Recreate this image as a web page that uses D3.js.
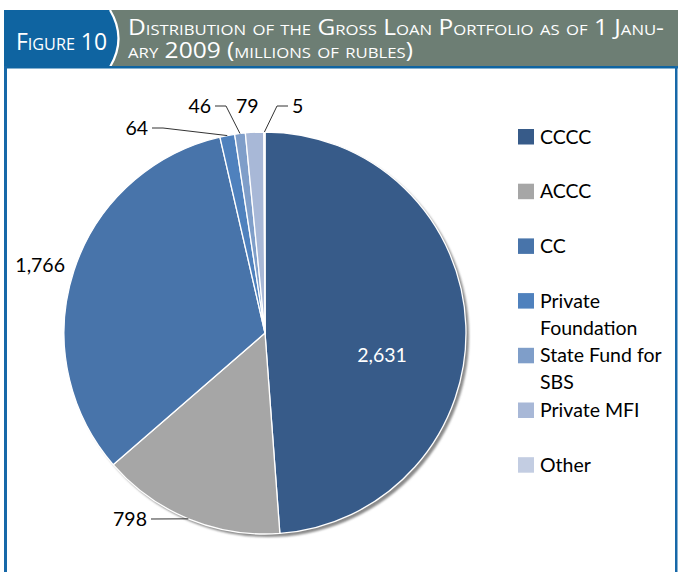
<!DOCTYPE html>
<html>
<head>
<meta charset="utf-8">
<script src="https://cdn.jsdelivr.net/npm/d3@7"></script>
<style>
  body { margin: 0; background: #fff; }
  svg { display: block; }
</style>
</head>
<body>
<script>
'use strict'

const categories = ['CCCC', 'ACCC', 'CC', 'Private Foundation', 'State Fund for SBS', 'Private MFI', 'Other']
const values = [2631, 798, 1766, 64, 46, 79, 5]
const titleLines = ['Distribution of the Gross Loan Portfolio as of 1 Janu-', 'ary 2009 (millions of rubles)']
const figureLabel = 'Figure 10'

const colors = ['#375b89', '#a6a6a6', '#4874aa', '#4f81bd', '#7f9ec9', '#a8b8d7', '#c3cde2']
// where legend entries wrap
const legendWrap = { 'Private Foundation': ['Private', 'Foundation'], 'State Fund for SBS': ['State Fund for', 'SBS'] }

// label placement relative to pie centre: [dx, dy, anchor, leader?]
const labelLayout = [
  [117, 22, 'middle', false],
  [-118, 186, 'end', true],
  [-200, -68, 'end', false],
  [-117, -205, 'end', true],
  [-54, -227, 'end', true],
  [-29, -227, 'start', false],
  [27, -227, 'start', true]
]

const width = 678
const height = 572
const cx = 265
const cy = 333
const radius = 201
const font = 'Lato, "Open Sans", sans-serif'
const fmt = d3.format(',')

const svg = d3.select('body').append('svg')
  .attr('width', width)
  .attr('height', height)

const defs = svg.append('defs')
defs.append('filter').attr('id', 'shadow')
  .attr('x', '-10%').attr('y', '-10%').attr('width', '120%').attr('height', '120%')
  .append('feGaussianBlur').attr('stdDeviation', 1.2)

// ---- frame and header
const frame = svg.append('g')
frame.append('rect').attr('x', 4).attr('y', 10).attr('width', width - 4).attr('height', 57).attr('fill', '#6d7e74')
frame.append('path')
  .attr('d', 'M4,10 L110,10 Q127,38.5 110,67 L4,67 Z')
  .attr('fill', '#0f64a1')
frame.append('path')
  .attr('d', 'M110,10 Q127,38.5 110,67')
  .attr('fill', 'none').attr('stroke', '#fff').attr('stroke-width', 2.2)
frame.append('rect').attr('x', 4).attr('y', 66).attr('width', width - 4).attr('height', 2.5).attr('fill', '#0f64a1')
frame.append('rect').attr('x', 4).attr('y', 66).attr('width', 3).attr('height', height - 66).attr('fill', '#1768a8')
frame.append('rect').attr('x', 675).attr('y', 66).attr('width', 2.5).attr('height', height - 66).attr('fill', '#1768a8')

frame.append('text')
  .attr('x', 16).attr('y', 50)
  .attr('textLength', 91).attr('lengthAdjust', 'spacingAndGlyphs')
  .style('font-family', '"Open Sans", sans-serif')
  .style('font-variant', 'small-caps')
  .style('font-size', '24px')
  .attr('fill', '#fff')
  .text(figureLabel)

frame.selectAll('text.title')
  .data(titleLines)
  .enter()
  .append('text')
  .attr('class', 'title')
  .attr('x', 128)
  .attr('y', function (d, i) { return 35 + i * 23 })
  .attr('textLength', function (d, i) { return i === 0 ? 536 : 285 })
  .attr('lengthAdjust', 'spacingAndGlyphs')
  .style('font-family', '"Open Sans", sans-serif')
  .style('font-variant', 'small-caps')
  .style('font-size', '22px')
  .attr('fill', '#fff')
  .text(function (d) { return d })

// ---- pie
const pie = d3.pie().value(function (d) { return d.value }).sort(null)
const arc = d3.arc().innerRadius(0).outerRadius(radius)
const data = categories.map(function (c, i) { return { name: c, value: values[i], color: colors[i], layout: labelLayout[i] } })
const arcs = pie(data)

const g = svg.append('g').attr('transform', 'translate(' + cx + ',' + cy + ')')

g.append('circle')
  .attr('cx', 3).attr('cy', 3).attr('r', radius)
  .attr('fill', '#8a8a8a')
  .attr('filter', 'url(#shadow)')

g.selectAll('path.slice')
  .data(arcs)
  .enter()
  .append('path')
  .attr('class', 'slice')
  .attr('d', arc)
  .attr('fill', function (d) { return d.data.color })
  .attr('stroke', '#fff')
  .attr('stroke-width', 1.3)
  .attr('stroke-linejoin', 'round')

function edgePoint (d) {
  const a = (d.startAngle + d.endAngle) / 2
  return [Math.sin(a) * radius, -Math.cos(a) * radius]
}

// leader lines
g.selectAll('path.leader')
  .data(arcs.filter(function (d) { return d.data.layout[3] }))
  .enter()
  .append('path')
  .attr('class', 'leader')
  .attr('fill', 'none')
  .attr('stroke', '#333')
  .attr('stroke-width', 1)
  .attr('d', function (d) {
    const p = edgePoint(d)
    const l = d.data.layout
    const gap = l[2] === 'end' ? 4 : -4
    const x0 = l[0] + gap
    const y0 = l[1]
    const knee = l[2] === 'end' ? x0 + 11 : x0 - 11
    if (Math.abs(p[1] - y0) < 3) return 'M' + x0 + ',' + y0 + 'L' + p[0] + ',' + p[1]
    return 'M' + x0 + ',' + y0 + 'L' + knee + ',' + y0 + 'L' + p[0] + ',' + p[1]
  })

g.selectAll('text.value')
  .data(arcs)
  .enter()
  .append('text')
  .attr('class', 'value')
  .attr('x', function (d) { return d.data.layout[0] })
  .attr('y', function (d) { return d.data.layout[1] })
  .attr('dy', '0.36em')
  .attr('text-anchor', function (d) { return d.data.layout[2] })
  .attr('fill', function (d, i) { return i === 0 ? '#fff' : '#000' })
  .style('font-family', font)
  .style('font-size', '19.5px')
  .text(function (d) { return fmt(d.data.value) })

// ---- legend
const legend = svg.append('g').attr('transform', 'translate(518,129)')
const item = legend.selectAll('g.item')
  .data(categories)
  .enter()
  .append('g')
  .attr('class', 'item')
  .attr('transform', function (d, i) { return 'translate(0,' + i * 54.7 + ')' })

item.append('rect')
  .attr('width', 16).attr('height', 15.5)
  .attr('fill', function (d, i) { return colors[i] })

item.append('text')
  .attr('x', 22)
  .attr('y', 14.5)
  .style('font-family', font)
  .style('font-size', '19.5px')
  .attr('fill', '#000')
  .selectAll('tspan')
  .data(function (d) { return legendWrap[d] || [d] })
  .enter()
  .append('tspan')
  .attr('x', 22)
  .attr('dy', function (d, i) { return i === 0 ? 0 : 27 })
  .text(function (d) { return d })
</script>
</body>
</html>
